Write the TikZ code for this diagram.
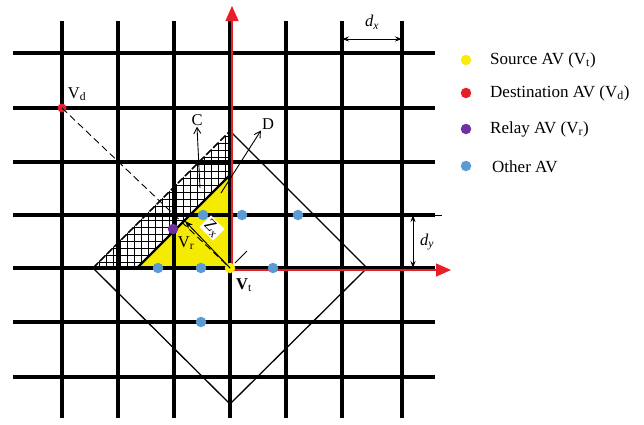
\documentclass[tikz,border=0pt]{standalone}
\usepackage{fontspec}
\setmainfont{Liberation Serif}
\usetikzlibrary{arrows.meta}
\definecolor{triyellow}{RGB}{245,235,0}
\definecolor{avyellow}{RGB}{250,235,10}
\definecolor{avred}{RGB}{230,30,40}
\definecolor{avpurple}{RGB}{112,48,160}
\definecolor{avblue}{RGB}{91,155,213}
\definecolor{axisred}{RGB}{232,30,40}
\begin{document}
\begin{tikzpicture}[x=1pt,y=-1pt,
  gridline/.style={line width=3.2pt, black},
  dot/.style={circle, inner sep=0pt, minimum size=10.5pt, draw=none},
  lbl/.style={font=\fontsize{16.5}{19}\selectfont, inner sep=1pt},
  leg/.style={font=\fontsize{17}{20}\selectfont, anchor=west, inner sep=0pt},
  axisline/.style={axisred, line width=1.3pt, -{Triangle[length=15pt,width=13pt]}},
  thinarrow/.style={line width=0.9pt, -{Straight Barb[length=6pt,width=7pt]}},
  measure/.style={line width=0.8pt, {Stealth[length=7pt,width=5pt]}-{Stealth[length=7pt,width=5pt]}}]
\useasboundingbox (0,0) rectangle (644,424);
% yellow triangle
\fill[triyellow] (230,268) -- (230,175) -- (137,268) -- cycle;
% cross-hatched region
\begin{scope}
  \clip (92,268) -- (230,131) -- (230,175) -- (137,268) -- cycle;
  \foreach \x in {92,99,...,232} \draw[line width=0.6pt] (\x,120) -- (\x,272);
  \foreach \y in {129,136,...,272} \draw[line width=0.6pt] (88,\y) -- (234,\y);
\end{scope}
% grid
\foreach \x in {62,118,174,230,286,342,402} \draw[gridline] (\x,21) -- (\x,418);
\foreach \y in {53,108,162,215,268,322,377} \draw[gridline] (13,\y) -- (435,\y);
\draw[line width=0.8pt] (435,215) -- (442,215);
% diamond
\draw[line width=1.3pt] (230,131) -- (367,268) -- (230,404) -- (93,268);
\draw[line width=1.6pt, dash pattern=on 7pt off 3pt] (93,268) -- (230,131);
% hypotenuse
\draw[line width=2.2pt] (137,268) -- (230,175);
% axes
\coordinate (ox) at (232,268);
\coordinate (oy) at (230,270);
\coordinate (ytip) at (232,6);
\coordinate (xtip) at (451,270);
\draw[axisline] (ox) -- (ytip);
\draw[axisline] (oy) -- (xtip);
% vehicles
\node[dot, fill=avred, minimum size=9pt] (vd) at (62,108) {};
\node[dot, fill=avpurple] (vr) at (173,229) {};
\node[dot, fill=avyellow] (vt) at (230,268) {};
\foreach \p [count=\i] in {(203,215),(242,215),(298,215),(158,268),(201,268),(273,268),(201,322)}
  \node[dot, fill=avblue] (o\i) at \p {};
% dashed Vd - Vt
\draw[line width=0.9pt, dash pattern=on 7pt off 4pt] (vd.center) -- (vt.center);
% Zx
\coordinate (zx) at (185,221);
\draw[line width=1pt, -{Stealth[length=8pt,width=6pt]}] (vt.center) -- (zx);
\coordinate (tka) at (235,263);
\coordinate (tkb) at (247,251);
\draw[line width=0.8pt] (tka) -- (tkb);
\node[lbl, fill=white, rotate=-45, inner sep=1.5pt] (zxl) at (212,228) {Z\textsubscript{x}};
% C and D
\node[lbl] (c) at (197,120) {C};
\node[lbl] (d) at (268,124) {D};
\coordinate (cs) at (200,188);
\coordinate (ds) at (221,193);
\draw[thinarrow] (cs) -- (c.south);
\draw[thinarrow] (ds) -- (d.south west);
% labels
\node[lbl] (vdl) at (77,94) {V\textsubscript{d}};
\node[lbl] (vrl) at (186,243) {V\textsubscript{r}};
\node[lbl] (vtl) at (244,285) {\textbf{V}\textsubscript{t}};
% dx, dy
\coordinate (dxa) at (342,39);
\coordinate (dxb) at (402,39);
\draw[measure] (dxa) -- (dxb);
\node[lbl] (dxl) at (372,22) {\textit{d}\textsubscript{\textit{x}}};
\coordinate (dya) at (413,215);
\coordinate (dyb) at (413,268);
\draw[measure] (dya) -- (dyb);
\node[lbl] (dyl) at (427,242) {\textit{d}\textsubscript{\textit{y}}};
% legend
\node[dot, fill=avyellow] (l1) at (466,60) {};
\node[dot, fill=avred] (l2) at (466,93) {};
\node[dot, fill=avpurple] (l3) at (466,129) {};
\node[dot, fill=avblue] (l4) at (466,166) {};
\node[leg] (t1) at (490,60) {Source AV (V\textsubscript{t})};
\node[leg] (t2) at (490,93) {Destination AV (V\textsubscript{d})};
\node[leg] (t3) at (490,129) {Relay AV (V\textsubscript{r})};
\node[leg] (t4) at (492,167) {Other AV};
\end{tikzpicture}
\end{document}
